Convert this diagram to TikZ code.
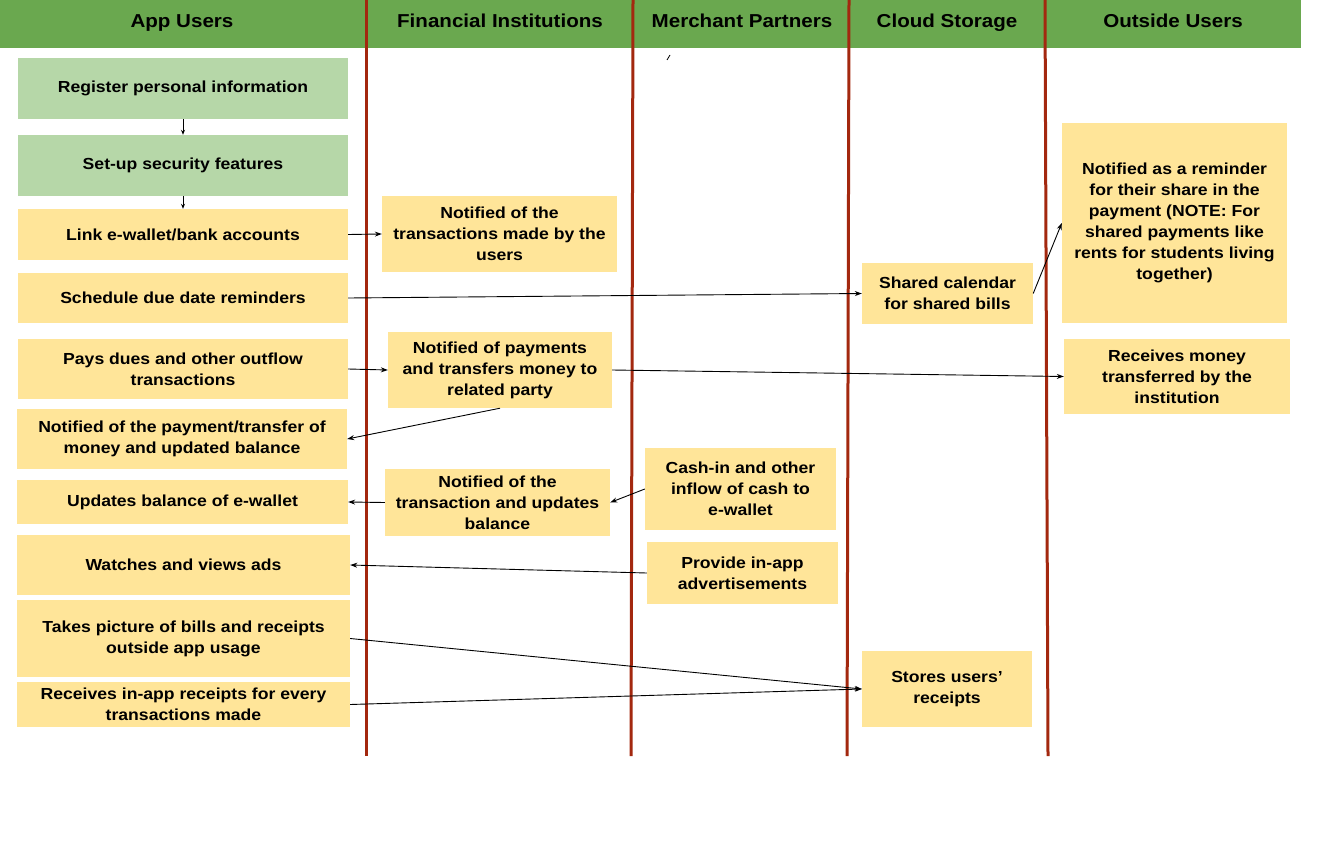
\documentclass[tikz,border=0pt]{standalone}
\usepackage{fontspec}
\setmainfont[FakeStretch=1.1]{Liberation Sans}
\usetikzlibrary{arrows.meta}
\definecolor{hdrgreen}{HTML}{6AA84F}
\definecolor{lightgreen}{HTML}{B6D7A8}
\definecolor{boxyellow}{HTML}{FFE599}
\definecolor{lanered}{HTML}{A3280F}
\tikzset{
  box/.style={fill=boxyellow, inner sep=0pt, align=center, font=\fontsize{16}{21}\selectfont\bfseries},
  gbox/.style={box, fill=lightgreen},
  hdr/.style={font=\fontsize{18.7}{22}\selectfont\bfseries, inner sep=0pt, anchor=base},
  lane/.style={draw=lanered, line width=3pt},
  flow/.style={draw=black, line width=0.9pt, -{Stealth[length=7pt,width=5pt]}},
  sflow/.style={draw=black, line width=0.9pt, -{Stealth[length=5pt,width=4pt]}}
}
\begin{document}
\begin{tikzpicture}[x=1pt,y=-1pt]
\useasboundingbox (0,0) rectangle (1329,853);
\fill[hdrgreen] (0,0) rectangle (1301,48);
\node[hdr] (h1) at (182,28) {App Users};
\node[hdr] (h2) at (500,28) {Financial Institutions};
\node[hdr] (h3) at (742,28) {Merchant Partners};
\node[hdr] (h4) at (947,28) {Cloud Storage};
\node[hdr] (h5) at (1173,28) {Outside Users};
\draw[lane] (366,0) -- (366,756);
\draw[lane] (633,0) -- (631,756);
\draw[lane] (849,0) -- (847,756);
\draw[lane] (1045,0) -- (1048,756);
\draw[black, line width=0.8pt] (667,60) -- (670,55);
% App users
\node[gbox, minimum width=330pt, minimum height=61pt] (reg) at (183,88.5) {Register personal information};
\node[gbox, minimum width=330pt, minimum height=61pt] (sec) at (183,165.5) {Set-up security features};
\node[box, minimum width=330pt, minimum height=51pt] (link) at (183,234.5) {Link e-wallet/bank accounts};
\node[box, minimum width=330pt, minimum height=50pt] (sched) at (183,298) {Schedule due date reminders};
\node[box, minimum width=330pt, minimum height=60pt] (pays) at (183,369) {Pays dues and other outflow\\transactions};
\node[box, minimum width=330pt, minimum height=60pt] (notif) at (182,439) {Notified of the payment/transfer of\\money and updated balance};
\node[box, minimum width=331pt, minimum height=44pt] (upd) at (182.5,502) {Updates balance of e-wallet};
\node[box, minimum width=333pt, minimum height=60pt] (watch) at (183.5,565) {Watches and views ads};
\node[box, minimum width=333pt, minimum height=77pt] (takes) at (183.5,638.5) {Takes picture of bills and receipts\\outside app usage};
\node[box, minimum width=333pt, minimum height=45pt] (recv) at (183.5,704.5) {Receives in-app receipts for every\\transactions made};
% Financial institutions
\node[box, minimum width=235pt, minimum height=76pt] (fi1) at (499.5,234) {Notified of the\\transactions made by the\\users};
\node[box, minimum width=224pt, minimum height=76pt] (fi2) at (500,370) {Notified of payments\\and transfers money to\\related party};
\node[box, minimum width=225pt, minimum height=67pt] (fi3) at (497.5,502.5) {Notified of the\\transaction and updates\\balance};
% Merchant partners
\node[box, minimum width=191pt, minimum height=82pt] (mp1) at (740.5,489) {Cash-in and other\\inflow of cash to\\e-wallet};
\node[box, minimum width=191pt, minimum height=62pt] (mp2) at (742.5,573) {Provide in-app\\advertisements};
% Cloud storage
\node[box, minimum width=171pt, minimum height=61pt] (cs1) at (947.5,293.5) {Shared calendar\\for shared bills};
\node[box, minimum width=170pt, minimum height=76pt] (cs2) at (947,689) {Stores users'\\receipts};
% Outside users
\node[box, minimum width=225pt, minimum height=200pt] (ou1) at (1174.5,223) {Notified as a reminder\\for their share in the\\payment (NOTE: For\\shared payments like\\rents for students living\\together)};
\node[box, minimum width=226pt, minimum height=75pt] (ou2) at (1177,376.5) {Receives money\\transferred by the\\institution};
% connectors
\draw[sflow] (reg.south) -- (sec.north);
\draw[sflow] (sec.south) -- (link.north);
\draw[flow] (link.east) -- (fi1.west);
\draw[flow] (sched.east) -- (cs1.west);
\draw[flow] (cs1.east) -- (ou1.west);
\draw[flow] (pays.east) -- (fi2.west);
\draw[flow] (fi2.east) -- (ou2.west);
\draw[flow] (fi2.south) -- (notif.east);
\draw[flow] (fi3.west) -- (upd.east);
\draw[flow] (mp1.west) -- (fi3.east);
\draw[flow] (mp2.west) -- (watch.east);
\draw[flow] (takes.east) -- (cs2.west);
\draw[flow] (recv.east) -- (cs2.west);
\end{tikzpicture}
\end{document}
